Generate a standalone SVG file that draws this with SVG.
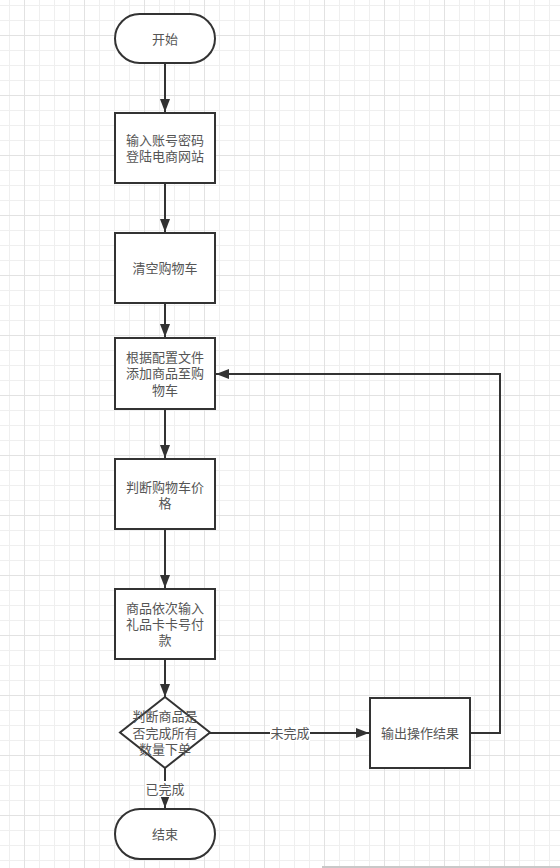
<svg xmlns="http://www.w3.org/2000/svg" width="560" height="868" viewBox="0 0 560 868">
<defs>
<pattern id="grid" x="-36" y="-25" width="60" height="60" patternUnits="userSpaceOnUse">
<path d="M15.5 0V60M30.5 0V60M45.5 0V60M0 15.5H60M0 30.5H60M0 45.5H60" stroke="#efefef" stroke-width="1" fill="none"/>
<path d="M0.5 0V60M0 0.5H60" stroke="#e2e2e2" stroke-width="1" fill="none"/>
</pattern>
<marker id="arr" markerUnits="userSpaceOnUse" markerWidth="14" markerHeight="12" refX="13" refY="6" orient="auto">
<path d="M0,1 L13,6 L0,11 Z" fill="#333"/>
</marker>
<style>
.n{fill:#fff;stroke:#333;stroke-width:2}
.t{font-family:"Liberation Sans","Noto Sans CJK SC",sans-serif;font-size:13px;fill:#555;text-anchor:middle;dominant-baseline:central}
.e{fill:none;stroke:#333;stroke-width:2}
.lb{fill:#fff}
</style>
</defs>
<rect width="560" height="868" fill="#fff"/>
<rect width="560" height="868" fill="url(#grid)"/>
<rect x="322" y="866" width="238" height="2" fill="#c8c8c8"/>
<g id="edges">
<path class="e" d="M165 63V112" marker-end="url(#arr)"/>
<path class="e" d="M165 183V232" marker-end="url(#arr)"/>
<path class="e" d="M165 303V337" marker-end="url(#arr)"/>
<path class="e" d="M165 409V458" marker-end="url(#arr)"/>
<path class="e" d="M165 529V588" marker-end="url(#arr)"/>
<path class="e" d="M165 659V697" marker-end="url(#arr)"/>
<path class="e" d="M165 768V808" marker-end="url(#arr)"/>
<path class="e" d="M210 733H369" marker-end="url(#arr)"/>
<path class="e" d="M470 733H500V374H216" marker-end="url(#arr)"/>
<rect class="lb" x="270" y="725" width="40" height="16"/>
<text class="t" x="290" y="733">未完成</text>
<rect class="lb" x="145" y="781" width="40" height="16"/>
<text class="t" x="165" y="789">已完成</text>
</g>
<g id="start">
<rect class="n" x="115" y="14" width="100" height="49" rx="24.5"/>
<text class="t" x="165" y="39">开始</text>
</g>
<g id="login">
<rect class="n" x="115" y="113" width="100" height="70"/>
<text class="t" x="165" y="140">输入账号密码</text>
<text class="t" x="165" y="156">登陆电商网站</text>
</g>
<g id="clear">
<rect class="n" x="115" y="233" width="100" height="70"/>
<text class="t" x="165" y="268">清空购物车</text>
</g>
<g id="add">
<rect class="n" x="115" y="338" width="100" height="71"/>
<text class="t" x="165" y="357">根据配置文件</text>
<text class="t" x="165" y="373">添加商品至购</text>
<text class="t" x="165" y="390">物车</text>
</g>
<g id="price">
<rect class="n" x="115" y="459" width="100" height="70"/>
<text class="t" x="165" y="487">判断购物车价</text>
<text class="t" x="165" y="503">格</text>
</g>
<g id="pay">
<rect class="n" x="115" y="589" width="100" height="70"/>
<text class="t" x="165" y="608">商品依次输入</text>
<text class="t" x="165" y="624">礼品卡卡号付</text>
<text class="t" x="165" y="640">款</text>
</g>
<g id="check">
<polygon class="n" points="165,697 210,732.5 165,768 120,732.5"/>
<text class="t" x="165" y="716">判断商品是</text>
<text class="t" x="165" y="733">否完成所有</text>
<text class="t" x="165" y="749">数量下单</text>
</g>
<g id="output">
<rect class="n" x="370" y="698" width="100" height="70"/>
<text class="t" x="420" y="733">输出操作结果</text>
</g>
<g id="end">
<rect class="n" x="115" y="809" width="100" height="50" rx="25"/>
<text class="t" x="165" y="834">结束</text>
</g>
</svg>
